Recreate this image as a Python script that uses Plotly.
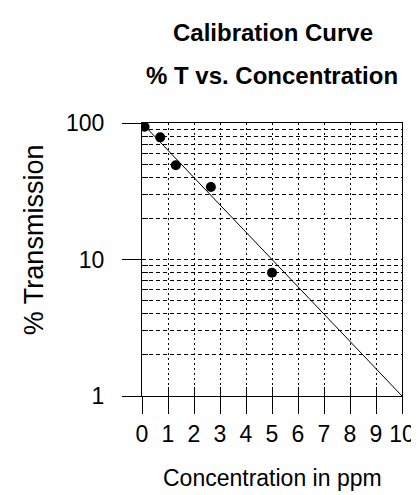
import plotly.graph_objects as go

# Measured calibration points
conc_ppm = [0.1, 0.7, 1.3, 2.65, 5.0]
pct_T = [94, 78.5, 49, 34, 8.0]

# Fitted calibration line
fit_conc = [0, 10]
fit_T = [100, 1]

x_ticks = list(range(0, 11))
y_major = [1, 10, 100]
y_minor = [2, 3, 4, 5, 6, 7, 8, 9, 20, 30, 40, 50, 60, 70, 80, 90]

title_text = "Calibration Curve"
subtitle_text = "% T vs. Concentration"
x_title = "Concentration in ppm"
y_title = "% Transmission"

FONT = "Liberation Sans"
W, H = 419, 495
L, R, T, B = 134, 15, 115, 107
PW, PH = W - L - R, H - T - B


def px(xp):
    return (xp - L) / PW


def py(yp):
    return (H - B - yp) / PH


fig = go.Figure()
fig.add_trace(go.Scatter(x=fit_conc, y=fit_T, mode="lines",
                         line=dict(color="black", width=1), showlegend=False))
fig.add_trace(go.Scatter(x=conc_ppm, y=pct_T, mode="markers",
                         marker=dict(color="black", size=10), showlegend=False))
# overlay axis providing inside tick marks on x
fig.add_trace(go.Scatter(x=fit_conc, y=fit_T, xaxis="x2", mode="lines",
                         line=dict(width=0), hoverinfo="skip", showlegend=False))

fig.update_layout(
    width=W, height=H,
    margin=dict(l=L, r=R, t=T, b=B),
    paper_bgcolor="white", plot_bgcolor="white",
    font=dict(family=FONT, color="black"),
    xaxis=dict(
        range=[0, 10], tickvals=x_ticks, ticktext=[str(v) for v in x_ticks],
        ticks="outside", ticklen=17, tickcolor="black", tickwidth=1,
        showline=True, linecolor="black", linewidth=1, mirror=True,
        showgrid=True, gridcolor="black", gridwidth=1, griddash="2px,3px",
        zeroline=False, tickfont=dict(size=23, family=FONT),
    ),
    xaxis2=dict(
        overlaying="x", side="bottom", range=[0, 10], tickvals=x_ticks,
        ticks="inside", ticklen=9, tickcolor="black", showticklabels=False,
        showgrid=False, zeroline=False, showline=False, anchor="y",
    ),
    yaxis=dict(
        type="log", range=[0, 2], tickvals=y_major, ticktext=[str(v) for v in y_major],
        ticks="outside", ticklen=19, tickcolor="black", tickwidth=1,
        showline=True, linecolor="black", linewidth=1, mirror=True,
        showgrid=True, gridcolor="black", gridwidth=1, griddash="4px,3px",
        zeroline=False, tickfont=dict(size=23, family=FONT), ticklabelstandoff=13,
        minor=dict(tickvals=y_minor, ticks="inside", ticklen=6, tickcolor="black",
                   showgrid=True, gridcolor="black", gridwidth=1, griddash="4px,3px"),
    ),
    annotations=[
        dict(text="<b>" + title_text + "</b>", x=px(270), y=py(24),
             xref="paper", yref="paper", xanchor="center", yanchor="middle",
             showarrow=False, font=dict(size=24, family=FONT)),
        dict(text="<b>" + subtitle_text + "</b>", x=px(269), y=py(68),
             xref="paper", yref="paper", xanchor="center", yanchor="middle",
             showarrow=False, font=dict(size=24, family=FONT)),
        dict(text=x_title, x=px(269), y=py(470),
             xref="paper", yref="paper", xanchor="center", yanchor="middle",
             showarrow=False, font=dict(size=23, family=FONT)),
        dict(text=y_title, x=px(22), y=py(232), textangle=-90,
             xref="paper", yref="paper", xanchor="center", yanchor="middle",
             showarrow=False, font=dict(size=27, family=FONT)),
    ],
)

fig.write_html("out.html")
